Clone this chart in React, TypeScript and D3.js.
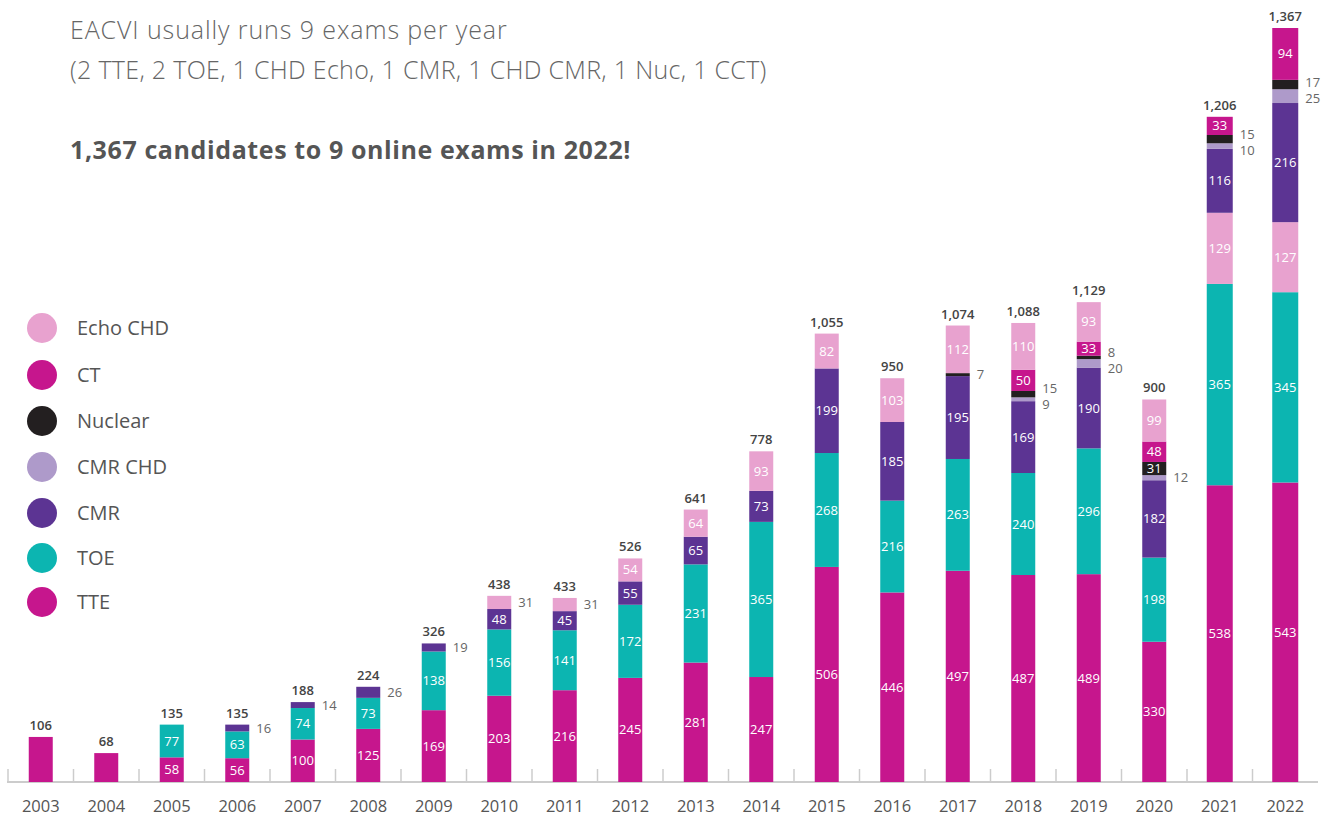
import { useEffect, useRef } from 'react'
import * as d3 from 'd3'

const years = ['2003', '2004', '2005', '2006', '2007', '2008', '2009', '2010', '2011', '2012',
  '2013', '2014', '2015', '2016', '2017', '2018', '2019', '2020', '2021', '2022']

const tte = [106, 68, 58, 56, 100, 125, 169, 203, 216, 245, 281, 247, 506, 446, 497, 487, 489, 330, 538, 543]
const toe = [0, 0, 77, 63, 74, 73, 138, 156, 141, 172, 231, 365, 268, 216, 263, 240, 296, 198, 365, 345]
const cmr = [0, 0, 0, 16, 14, 26, 19, 48, 45, 55, 65, 73, 199, 185, 195, 169, 190, 182, 116, 216]
const cmrChd = [0, 0, 0, 0, 0, 0, 0, 0, 0, 0, 0, 0, 0, 0, 0, 9, 20, 12, 10, 25]
const nuclear = [0, 0, 0, 0, 0, 0, 0, 0, 0, 0, 0, 0, 0, 0, 7, 15, 8, 31, 15, 17]
const ct = [0, 0, 0, 0, 0, 0, 0, 0, 0, 0, 0, 0, 0, 0, 0, 50, 33, 48, 33, 94]
const echoChd = [0, 0, 0, 0, 0, 0, 0, 31, 31, 54, 64, 93, 82, 103, 112, 110, 93, 99, 129, 127]

// published totals (2018 label differs from the sum of its parts)
const totals = [106, 68, 135, 135, 188, 224, 326, 438, 433, 526, 641, 778, 1055, 950, 1074, 1088, 1129, 900, 1206, 1367]

const seriesNames = ['TTE', 'TOE', 'CMR', 'CMR CHD', 'Nuclear', 'CT', 'Echo CHD']
const seriesValues = [tte, toe, cmr, cmrChd, nuclear, ct, echoChd]
const seriesColors = ['#c6168d', '#0cb5b1', '#5c3493', '#ae9aca', '#231f20', '#c6168d', '#e8a2cf']
const legendOrder = ['Echo CHD', 'CT', 'Nuclear', 'CMR CHD', 'CMR', 'TOE', 'TTE']

// the last two years use a different stacking order and a different vertical scale
const lateYears = ['2021', '2022']
const lateOrder = ['TTE', 'TOE', 'Echo CHD', 'CMR', 'CMR CHD', 'Nuclear', 'CT']
// small segments labelled inside anyway
const insideSmall = [['2020', 'Nuclear']]

const FONT = "'Open Sans', sans-serif"

export default function App() {
  const svgRef = useRef(null)

  useEffect(() => {
    const svg = d3.select(svgRef.current)
    svg.selectAll('*').remove()

    const baseY = 782
    const x = d3.scaleBand().domain(years).range([8, 1318])
    const yOld = d3.scaleLinear().domain([0, 1774]).range([baseY, 28])
    const yNew = d3.scaleLinear().domain([0, 1367]).range([baseY, 28])

    // titles
    svg.append('text').attr('x', 70).attr('y', 39).text('EACVI usually runs 9 exams per year')
      .style('font-family', FONT).style('font-size', 25).style('font-weight', 300)
      .style('letter-spacing', '0.9px').style('fill', '#666')
    svg.append('text').attr('x', 70).attr('y', 79).text('(2 TTE, 2 TOE, 1 CHD Echo, 1 CMR, 1 CHD CMR, 1 Nuc, 1 CCT)')
      .style('font-family', FONT).style('font-size', 25).style('font-weight', 300)
      .style('letter-spacing', '0.3px').style('fill', '#666')
    svg.append('text').attr('x', 70).attr('y', 159).text('1,367 candidates to 9 online exams in 2022!')
      .style('font-family', FONT).style('font-size', 25).style('font-weight', 700)
      .style('letter-spacing', '0.6px').style('fill', '#555')

    // legend
    const legend = svg.selectAll('.leg').data(legendOrder).enter().append('g')
      .attr('class', 'leg')
      .attr('transform', (d, i) => `translate(42, ${[328, 375, 421, 467, 513, 558, 602][i]})`)
    legend.append('circle').attr('r', 15)
      .attr('fill', (d) => seriesColors[seriesNames.indexOf(d)])
    legend.append('text').attr('x', 35).attr('dy', '0.35em').text((d) => d)
      .style('font-family', FONT).style('font-size', 20).style('fill', '#555')

    // axis
    svg.append('line').attr('x1', 7).attr('x2', 1318).attr('y1', baseY).attr('y2', baseY)
      .attr('stroke', '#ccc').attr('stroke-width', 2)
    svg.selectAll('.tick').data(years).enter().append('line')
      .attr('x1', (d) => x(d)).attr('x2', (d) => x(d))
      .attr('y1', baseY - 13).attr('y2', baseY)
      .attr('stroke', '#ccc').attr('stroke-width', 1.5)
    svg.selectAll('.yr').data(years).enter().append('text')
      .attr('x', (d) => x(d) + x.bandwidth() / 2).attr('y', 806).attr('dy', '0.35em')
      .attr('text-anchor', 'middle').text((d) => d)
      .style('font-family', FONT).style('font-size', 16.5).style('fill', '#555')

    years.forEach((yr, i) => {
      const late = lateYears.includes(yr)
      const y = late ? yNew : yOld
      const w = late ? 26 : 24
      const cx = x(yr) + x.bandwidth() / 2
      const order = late ? lateOrder : seriesNames
      const segs = []
      let acc = 0
      order.forEach((name) => {
        const k = seriesNames.indexOf(name)
        const v = seriesValues[k][i]
        if (!v) return
        segs.push({ name, v, y0: acc, y1: acc + v, color: seriesColors[k] })
        acc += v
      })

      const g = svg.append('g')
      g.selectAll('rect').data(segs).enter().append('rect')
        .attr('x', cx - w / 2).attr('width', w)
        .attr('y', (d) => y(d.y1)).attr('height', (d) => y(d.y0) - y(d.y1))
        .attr('fill', (d) => d.color)

      const isOutside = (d) => d.v < 32 && !insideSmall.some((p) => p[0] === yr && p[1] === d.name)

      if (segs.length > 1) {
        g.selectAll('.in').data(segs.filter((d) => !isOutside(d))).enter().append('text')
          .attr('x', cx).attr('y', (d) => (y(d.y0) + y(d.y1)) / 2).attr('dy', '0.35em')
          .attr('text-anchor', 'middle').text((d) => d.v)
          .style('font-family', FONT).style('font-size', 13).style('fill', '#fff')
      }

      // outside labels, spread apart when too close
      const outs = segs.filter(isOutside)
        .map((d) => ({ v: d.v, ly: (y(d.y0) + y(d.y1)) / 2 }))
        .sort((a, b) => a.ly - b.ly)
      for (let j = 1; j < outs.length; j++) {
        if (outs[j].ly - outs[j - 1].ly < 16) {
          const mid = (outs[j].ly + outs[j - 1].ly) / 2
          outs[j - 1].ly = mid - 8
          outs[j].ly = mid + 8
        }
      }
      g.selectAll('.out').data(outs).enter().append('text')
        .attr('x', cx + w / 2 + 7).attr('y', (d) => d.ly).attr('dy', '0.35em')
        .text((d) => d.v)
        .style('font-family', FONT).style('font-size', 13).style('fill', '#666')

      g.append('text').attr('x', cx).attr('y', y(acc) - 7)
        .attr('text-anchor', 'middle').text(d3.format(',')(totals[i]))
        .style('font-family', FONT).style('font-size', 13).style('font-weight', 600).style('fill', '#444')
    })
  }, [])

  return (
    <svg ref={svgRef} width={1322} height={816}
      style={{ position: 'absolute', left: 0, top: 0, background: '#fff' }} />
  )
}
